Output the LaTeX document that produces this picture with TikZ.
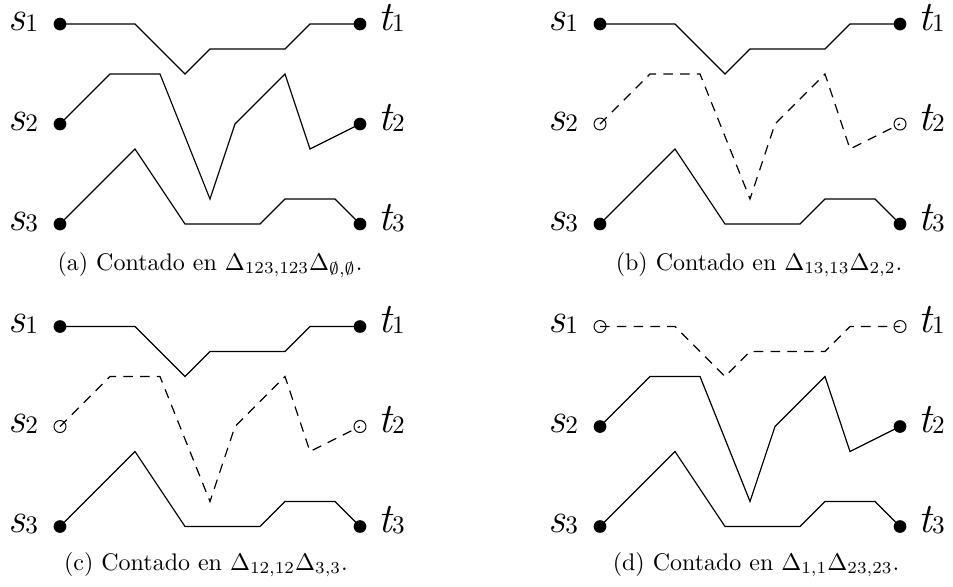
\documentclass[tikz,border=0pt]{standalone}
\usepackage{fontspec}
\newcommand\lbl[2]{{\fontsize{17.5}{18}\selectfont\itshape #1}{\fontsize{10.5}{11}\selectfont\raisebox{-0.5pt}{#2}}}
\tikzset{
  pline/.style={line width=0.5pt, line join=miter},
  solidp/.style={pline},
  dashp/.style={pline, dash pattern=on 4pt off 3pt},
  fdot/.style={circle, fill=black, inner sep=0pt, minimum size=5.3pt},
  odot/.style={circle, draw=black, line width=0.4pt, inner sep=0pt, minimum size=5pt},
  lab/.style={anchor=base west, inner sep=0pt},
  captxt/.style={anchor=base, inner sep=0pt, font=\fontsize{10}{12}\selectfont}
}
\newcommand\panel[7]{%
  \coordinate (#1s1) at (60,24);  \coordinate (#1t1) at (360,24);
  \coordinate (#1s2) at (60,124); \coordinate (#1t2) at (360,124);
  \coordinate (#1s3) at (60,224); \coordinate (#1t3) at (360,224);
  \draw[#2] (#1s1) -- (135,24) -- (185,74) -- (210,49) -- (285,49) -- (310,24) -- (#1t1);
  \draw[#3] (#1s2) -- (110,74) -- (160,74) -- (210,199) -- (235,124) -- (285,74) -- (310,149) -- (#1t2);
  \draw[#4] (#1s3) -- (135,149) -- (185,224) -- (260,224) -- (285,199) -- (335,199) -- (#1t3);
  \node[#5] (#1ds1) at (#1s1) {}; \node[#5] (#1dt1) at (#1t1) {};
  \node[#6] (#1ds2) at (#1s2) {}; \node[#6] (#1dt2) at (#1t2) {};
  \node[#7] (#1ds3) at (#1s3) {}; \node[#7] (#1dt3) at (#1t3) {};
  \node[lab] (#1ls1) at (8,30)  {\lbl{s}{1}};
  \node[lab] (#1ls2) at (8,130) {\lbl{s}{2}};
  \node[lab] (#1ls3) at (8,230) {\lbl{s}{3}};
  \node[lab] (#1lt1) at (378,30)  {\lbl{t}{1}};
  \node[lab] (#1lt2) at (378,130) {\lbl{t}{2}};
  \node[lab] (#1lt3) at (378,230) {\lbl{t}{3}};
}
\begin{document}
\begin{tikzpicture}[x=0.4167pt, y=-0.4167pt]
  \useasboundingbox (0,0) rectangle (953,586);
  \begin{scope}
    \panel{a}{solidp}{solidp}{solidp}{fdot}{fdot}{fdot}
  \end{scope}
  \begin{scope}[shift={(540,0)}]
    \panel{b}{solidp}{dashp}{solidp}{fdot}{odot}{fdot}
  \end{scope}
  \begin{scope}[shift={(0,302.5)}]
    \panel{c}{solidp}{dashp}{solidp}{fdot}{odot}{fdot}
  \end{scope}
  \begin{scope}[shift={(540,302.5)}]
    \panel{d}{dashp}{solidp}{solidp}{odot}{fdot}{fdot}
  \end{scope}
  \node[captxt] (capa) at (210,270) {(a) Contado en $\Delta_{123,123}\Delta_{\emptyset,\emptyset}$.};
  \node[captxt] (capb) at (759,270) {(b) Contado en $\Delta_{13,13}\Delta_{2,2}$.};
  \node[captxt] (capc) at (206,570) {(c) Contado en $\Delta_{12,12}\Delta_{3,3}$.};
  \node[captxt] (capd) at (756,570) {(d) Contado en $\Delta_{1,1}\Delta_{23,23}$.};
\end{tikzpicture}
\end{document}
